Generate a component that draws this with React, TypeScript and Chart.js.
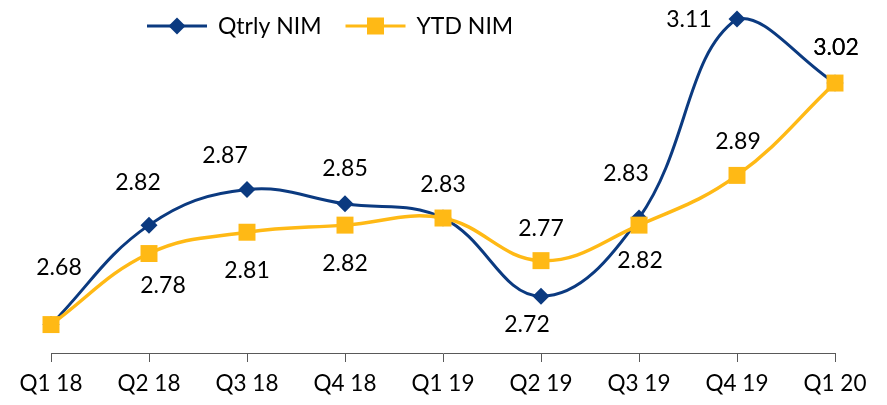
import React, { useEffect, useRef } from "react";
import { Chart, registerables } from "chart.js";

Chart.register(...registerables);

const categories = ["Q1 18", "Q2 18", "Q3 18", "Q4 18", "Q1 19", "Q2 19", "Q3 19", "Q4 19", "Q1 20"];
const qtrlyNim = [2.68, 2.82, 2.87, 2.85, 2.83, 2.72, 2.83, 3.11, 3.02];
const ytdNim = [2.68, 2.78, 2.81, 2.82, 2.83, 2.77, 2.82, 2.89, 3.02];

// label placement (dx, dy from the point); null = label not shown
const qtrlyLabelOffsets: ([number, number] | null)[] = [
  [8, -57], [-11, -43], [-22, -34], [0, -35], [0, -33], [-14, 28], [-13, -44], [-48, 0], [1, -35],
];
const ytdLabelOffsets: ([number, number] | null)[] = [
  null, [14, 32], [0, 38], [0, 38], null, [0, -32], [1, 35], [1, -34], [1, -35],
];

const NAVY = "#0B3A80";
const AMBER = "#FFB915";
const FONT = "Lato, 'Open Sans', sans-serif";

const labelPlugin = {
  id: "valueLabels",
  afterDatasetsDraw(chart: any) {
    const ctx = chart.ctx;
    ctx.save();
    ctx.font = `23px ${FONT}`;
    ctx.fillStyle = "#000";
    ctx.textAlign = "center";
    ctx.textBaseline = "middle";
    chart.data.datasets.forEach((ds: any, di: number) => {
      const meta = chart.getDatasetMeta(di);
      const offs = ds.labelOffsets as ([number, number] | null)[];
      meta.data.forEach((pt: any, i: number) => {
        const o = offs[i];
        if (!o) return;
        ctx.fillText(ds.data[i].toFixed(2), pt.x + o[0], pt.y + o[1]);
      });
    });
    ctx.restore();
  },
};

const legendPlugin = {
  id: "lineLegend",
  afterDraw(chart: any) {
    const ctx = chart.ctx;
    ctx.save();
    ctx.font = `23px ${FONT}`;
    ctx.textBaseline = "middle";
    ctx.textAlign = "left";
    let x = 147;
    const y = 26;
    const items = [chart.data.datasets[0], chart.data.datasets[1]];
    items.forEach((ds: any) => {
      ctx.strokeStyle = ds.borderColor;
      ctx.lineWidth = 3;
      ctx.beginPath();
      ctx.moveTo(x, y);
      ctx.lineTo(x + 60, y);
      ctx.stroke();
      const mx = x + 30;
      ctx.fillStyle = ds.borderColor;
      ctx.beginPath();
      if (ds.pointStyle === "rectRot") {
        const r = 8.5;
        ctx.moveTo(mx - r, y);
        ctx.lineTo(mx, y - r);
        ctx.lineTo(mx + r, y);
        ctx.lineTo(mx, y + r);
        ctx.closePath();
      } else {
        const s = 8.5;
        ctx.rect(mx - s, y - s, 2 * s, 2 * s);
      }
      ctx.fill();
      ctx.fillStyle = "#000";
      ctx.fillText(ds.label, x + 71, y + 1);
      const w = ctx.measureText(ds.label).width;
      x = x + 71 + w + 24;
    });
    ctx.restore();
  },
};

export default function App() {
  const ref = useRef<HTMLCanvasElement | null>(null);
  useEffect(() => {
    if (!ref.current) return;
    const chart = new Chart(ref.current, {
      type: "line",
      data: {
        labels: categories,
        datasets: [
          {
            label: "Qtrly NIM",
            data: qtrlyNim,
            borderColor: NAVY,
            backgroundColor: NAVY,
            borderWidth: 3,
            pointStyle: "rectRot",
            pointRadius: 8.5,
            pointBorderWidth: 0,
            tension: 0.4,
            clip: false,
            order: 1,
            labelOffsets: qtrlyLabelOffsets,
          } as any,
          {
            label: "YTD NIM",
            data: ytdNim,
            borderColor: AMBER,
            backgroundColor: AMBER,
            borderWidth: 3.5,
            pointStyle: "rect",
            pointRadius: 12,
            pointBorderWidth: 0,
            tension: 0.4,
            clip: false,
            order: 0,
            labelOffsets: ytdLabelOffsets,
          } as any,
        ],
      },
      options: {
        responsive: false,
        animation: false,
        devicePixelRatio: 1,
        layout: { padding: { left: 51, right: 52, top: 10, bottom: 0 } },
        plugins: {
          legend: { display: false },
          tooltip: { enabled: false },
        },
        scales: {
          y: { display: false, min: 2.64, max: 3.12 },
          x: {
            offset: false,
            grid: {
              drawOnChartArea: false,
              drawTicks: true,
              tickLength: 9,
              color: "#595959",
            },
            border: { display: true, color: "#595959", width: 1 },
            ticks: {
              color: "#000",
              font: { family: FONT, size: 22.5 },
              padding: 8,
              maxRotation: 0,
              autoSkip: false,
            },
          },
        },
      },
      plugins: [labelPlugin, legendPlugin],
    });
    return () => chart.destroy();
  }, []);
  return (
    <div style={{ position: "absolute", left: 0, top: 0, width: 887, height: 405, background: "#fff" }}>
      <canvas ref={ref} width={887} height={405} style={{ display: "block" }} />
    </div>
  );
}
